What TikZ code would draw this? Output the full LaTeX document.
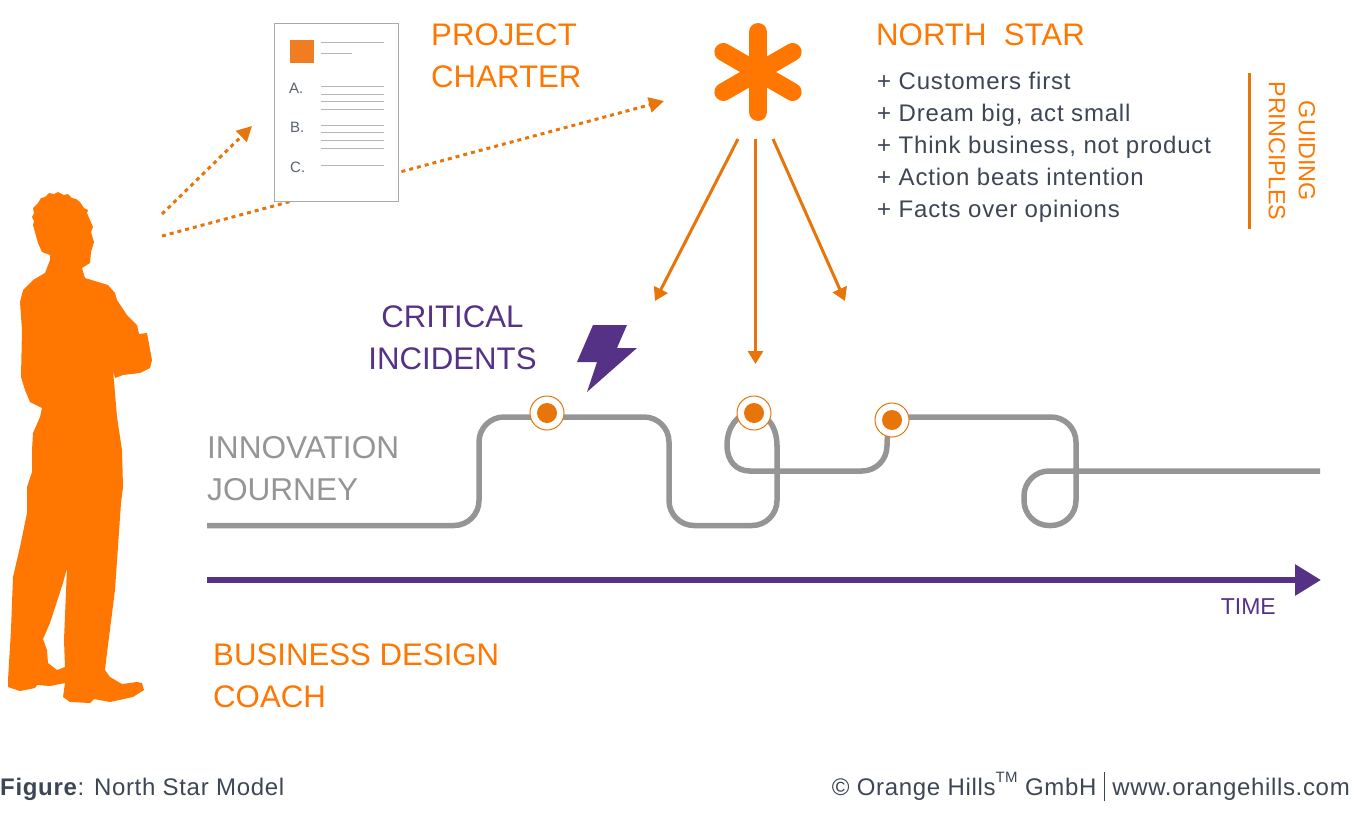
\documentclass[tikz,border=0pt]{standalone}
\usepackage{fontspec}
\setmainfont{Liberation Sans}
\newfontfamily\widefont[LetterSpace=3.4]{Liberation Sans}
\newfontfamily\footfont[LetterSpace=2.8]{Liberation Sans}
\usetikzlibrary{arrows.meta}
\definecolor{coach}{HTML}{FF7700}
\definecolor{arrow}{HTML}{E8750A}
\definecolor{sheet}{HTML}{F07D22}
\definecolor{plum}{HTML}{553285}
\definecolor{road}{HTML}{959595}
\definecolor{ink}{HTML}{3D4654}
\tikzset{
  head/.style={text=coach, font=\fontsize{31.2}{42}\selectfont, align=left, inner sep=0pt},
  headp/.style={text=plum, font=\fontsize{31.2}{42}\selectfont, align=center, inner sep=0pt},
  headg/.style={text=road, font=\fontsize{31.6}{42}\selectfont, align=left, inner sep=0pt},
  body/.style={text=ink, font=\widefont\fontsize{24}{32}\selectfont, align=left, inner sep=0pt},
  foot/.style={text=ink, font=\footfont\fontsize{24}{28}\selectfont, inner sep=0pt},
  point/.style={draw=arrow, line width=3pt, -{Triangle[length=13pt,width=15pt]}},
  hint/.style={draw=arrow, line width=3pt, dash pattern=on 4pt off 4pt, -{Triangle[length=15pt,width=15pt]}},
  rule/.style={draw=road!70, line width=1pt},
  letter/.style={text=ink!85, font=\fontsize{15}{16}\selectfont, anchor=west, inner sep=0pt},
  track/.style={draw=road, line width=5.5pt},
  mile/.style={circle, draw=arrow, fill=white, line width=1pt, minimum size=34pt, inner sep=0pt},
  core/.style={circle, fill=arrow, minimum size=20pt, inner sep=0pt},
}
\begin{document}
\begin{tikzpicture}[x=1pt,y=-1pt]
  \useasboundingbox (0,0) rectangle (1361,814);
  \coordinate (eyeA) at (162,214);
  \coordinate (eyeB) at (162,236);
  \coordinate (toDoc) at (252,126);
  \coordinate (toStar) at (664,101);
  % coach silhouette
  \fill[coach, even odd rule] (50,255) -- (50,260) -- (45,273) -- (33,280) -- (23,290) -- (20,302)
    -- (22,330) -- (21,377) -- (25,390) -- (30,402) -- (42,408) -- (40,417) -- (33,433) -- (32,450)
    -- (32,472) -- (27,487) -- (27,513) -- (20,547) -- (13,577) -- (11,630) -- (8,680) -- (8,687)
    -- (20,691) -- (35,688) -- (37,685) -- (50,686) -- (65,683) -- (63,697) -- (70,702) -- (90,703)
    -- (94,699) -- (110,702) -- (133,697) -- (144,690) -- (142,683) -- (137,682) -- (122,684)
    -- (110,677) -- (105,670) -- (107,653) -- (115,590) -- (121,503) -- (123,487) -- (122,450)
    -- (117,417) -- (115,393) -- (113,370) -- (115,378) -- (123,375) -- (140,373) -- (150,368)
    -- (152,360) -- (147,333) -- (139,334) -- (137,325) -- (127,315) -- (117,300) -- (115,293)
    -- (108,285) -- (85,278) -- (82,268) -- (90,263) -- (91,252) -- (94,242) -- (91,232) -- (93,227)
    -- (87,213) -- (88,210) -- (84,208) -- (80,202) -- (76,199) -- (72,198) -- (68,194) -- (64,195)
    -- (58,192) -- (54,194) -- (49,193) -- (45,197) -- (41,198) -- (38,203) -- (33,208) -- (34,213)
    -- (32,217) -- (34,221) -- (33,225) -- (38,243) -- (42,252) -- cycle
    (67,568) -- (63,583) -- (50,623) -- (43,639) -- (47,650) -- (48,663) -- (57,670) -- (65,667)
    -- (64,640) -- cycle;
  % dotted lines, the long one passes behind the sheet
  \draw[hint] (eyeA) -- (toDoc);
  \draw[hint] (eyeB) -- (toStar);
  % charter sheet
  \filldraw[draw=road!80, fill=white, line width=1pt] (274.5,23.5) rectangle (398,201.5);
  \fill[sheet] (289.5,39.5) rectangle (313.5,63);
  \draw[rule] (320.5,42.5) -- (383.5,42.5);
  \draw[rule] (320.5,53.5) -- (352,53.5);
  \foreach \y in {86,94,101.5,109.5,125,132.5,140.5,148.5,165}
    \draw[rule] (320.5,\y) -- (383.5,\y);
  \node[letter] (itemA) at (289,88) {A.};
  \node[letter] (itemB) at (290,127) {B.};
  \node[letter] (itemC) at (290,167) {C.};
  \node[head,anchor=west] (charter) at (431,56) {PROJECT\\CHARTER};
  % north star
  \coordinate (star) at (758,72);
  \foreach \a in {30,90,150}
    \draw[coach, line width=18pt, line cap=round] (star) ++(\a:-40 and 40) -- ++(\a:80 and -80);
  \coordinate (beamA) at (738,139);
  \coordinate (beamB) at (755.5,139);
  \coordinate (beamC) at (773,139);
  \coordinate (hitA) at (655,301);
  \coordinate (hitB) at (755.5,364);
  \coordinate (hitC) at (845,301);
  \draw[point] (beamA) -- (hitA);
  \draw[point] (beamB) -- (hitB);
  \draw[point] (beamC) -- (hitC);
  \node[head,anchor=west] (north) at (876,35) {NORTH\ \ STAR};
  \node[body,anchor=west] (values) at (877,147) {+ Customers first\\+ Dream big, act small\\+ Think business, not product\\+ Action beats intention\\+ Facts over opinions};
  \draw[arrow, line width=3pt] (1249,73) -- (1249,229);
  \node[text=coach, font=\fontsize{23.4}{30}\selectfont, align=center, rotate=-90, inner sep=0pt] (guide) at (1292,151) {GUIDING\\PRINCIPLES};
  % incidents
  \node[headp] (incidents) at (452.5,338) {CRITICAL\\INCIDENTS};
  \fill[plum] (593,325) -- (627,325) -- (617,348) -- (637,348) -- (587,392) -- (597,362) -- (577,362) -- cycle;
  % journey
  \node[headg,anchor=west] (journey) at (207,469) {INNOVATION\\JOURNEY};
  \draw[track, rounded corners=25pt] (207,525.5) -- (479,525.5) -- (479,417) -- (669,417)
    -- (669,525.5) -- (777,525.5) -- (777,445);
  \draw[track] (777,446) .. controls (777,428) and (768,413) .. (752,413)
    .. controls (737,413) and (727,428) .. (727,445) .. controls (727,461) and (736,471) .. (750,471);
  \draw[track, rounded corners=25pt] (749,471) -- (887,471) -- (887,417)
    -- (1076,417) -- (1076,525.5) -- (1024,525.5) -- (1024,471) -- (1320,471);
  \foreach \n/\x/\y in {a/547/413,b/754/413,c/892/420}{
    \node[mile] (mile\n) at (\x,\y) {};
    \node[core] at (mile\n) {};
  }
  % time axis
  \coordinate (startT) at (207,580);
  \coordinate (endT) at (1321,580);
  \draw[plum, line width=6pt, -{Triangle[length=26pt,width=30pt]}] (startT) -- (endT);
  \node[text=plum, font=\fontsize{23}{26}\selectfont, anchor=east, inner sep=0pt] (time) at (1276,607) {TIME};
  \node[head,anchor=west] (coachname) at (213,676) {BUSINESS DESIGN\\COACH};
  % footer
  \node[foot,anchor=base west] (figure) at (0,795) {\textbf{Figure}: North Star Model};
  \node[foot,anchor=base east] (owner) at (1350,795) {© Orange Hills\raisebox{13pt}{\fontsize{15}{15}\selectfont TM} GmbH \textcolor{ink}{\rule[-6pt]{1.2pt}{29pt}} www.orangehills.com};
\end{tikzpicture}
\end{document}
